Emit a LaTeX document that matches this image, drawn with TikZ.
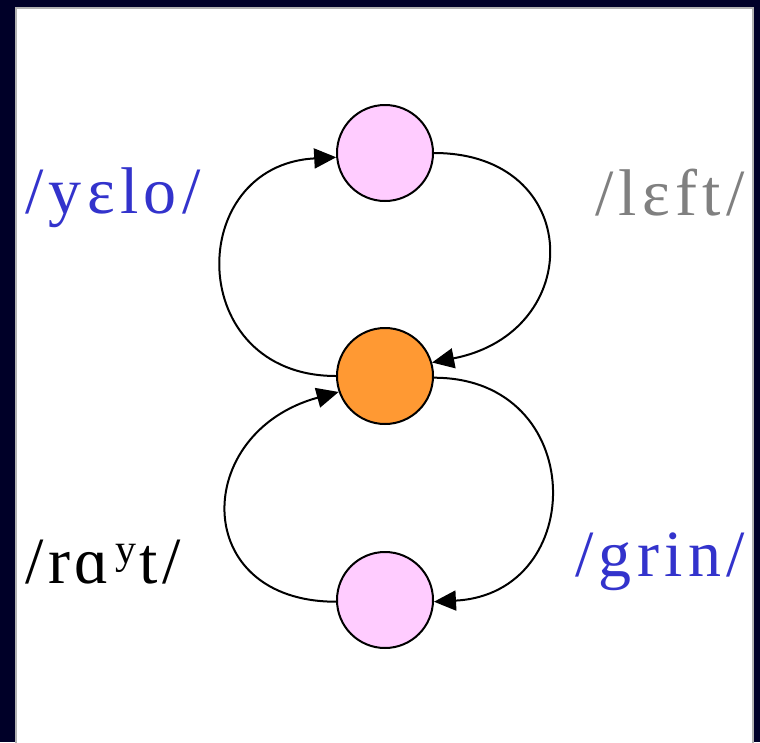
\documentclass[tikz,border=0pt]{standalone}
\usepackage{fontspec}
\setmainfont{Liberation Serif}
\newfontfamily\ipafont[LetterSpace=8]{Liberation Serif}
\usetikzlibrary{arrows.meta}
\definecolor{SlideNavy}{HTML}{000028}
\definecolor{SlideBlue}{HTML}{3333CC}
\definecolor{SlideGrey}{HTML}{808080}
\definecolor{StatePink}{HTML}{FFCCFF}
\definecolor{StateOrange}{HTML}{FF9933}

\tikzset{
  state/.style={circle, draw, line width=2pt, minimum size=96pt, inner sep=0pt},
  trans/.style={line width=2pt, -{Triangle[length=22pt,width=20pt]}},
  word/.style={font=\ipafont\fontsize{66}{74}\selectfont, inner sep=0pt},
}

\begin{document}
\begin{tikzpicture}[x=1pt,y=-1pt]
        \useasboundingbox (0,0) rectangle (760,742);

        % Slide
        \fill[SlideNavy] (0,0) rectangle (760,742);
        \draw[fill=white, draw=gray!60, line width=1.5pt] (16,8) rectangle (753,760);

        % States
        \node[state, fill=StatePink] (top) at (385,153) {};
        \node[state, fill=StateOrange] (mid) at (385,376) {};
        \node[state, fill=StatePink] (bot) at (385,600) {};

        % Transitions
        \draw[trans] (mid.180) .. controls +(-152,0) and +(-152,8) .. (top.185);
        \draw[trans] (top.0) .. controls +(150,0) and +(155,-30) .. (mid.16);
        \draw[trans] (bot.182) .. controls +(-147,0) and +(-147,40) .. (mid.199);
        \draw[trans] (mid.-2) .. controls +(155,0) and +(155,-8) .. (bot.-2);

        % Words
        \node[word, text=SlideBlue, anchor=base west] (yeloword) at (25,213) {/yɛlo/};
        \node[word, text=SlideGrey, anchor=base east] (leftword) at (745,215) {/lɛft/};
        \node[word, anchor=base west] (raytword) at (25,583) {/r\kern4pt ɑ\kern6pt\raisebox{0.3em}{\fontsize{42}{48}\selectfont y}\kern3pt t\kern5pt/};
        \node[word, text=SlideBlue, anchor=base east] (grinword) at (745,576) {/grin/};
\end{tikzpicture}
\end{document}
